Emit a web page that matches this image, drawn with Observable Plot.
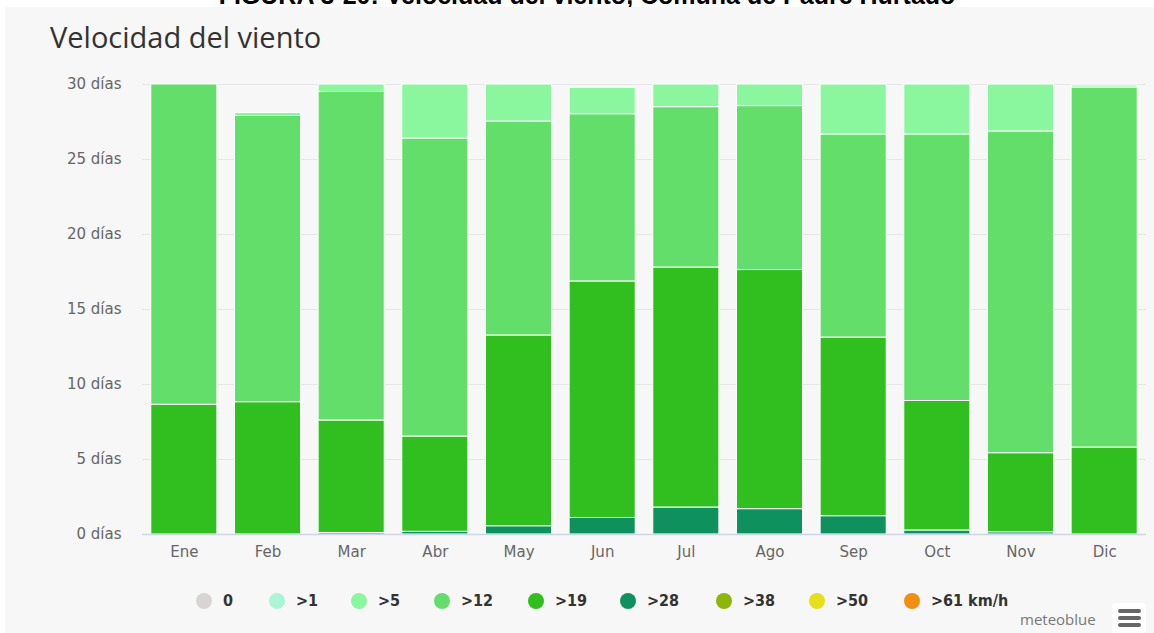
<!DOCTYPE html>
<html>
<head>
<meta charset="utf-8">
<script src="https://cdn.jsdelivr.net/npm/d3@7"></script>
<script src="https://cdn.jsdelivr.net/npm/@observablehq/plot@0.6"></script>
<style>
  html, body { margin: 0; padding: 0; background: #ffffff; width: 1154px; height: 633px; overflow: hidden; position: relative; }
  #caption { position: absolute; left: 0; top: -17px; width: 1174px; text-align: center; font-family: "Liberation Sans", Arial, sans-serif; font-weight: bold; font-size: 25px; line-height: 25px; color: #000; white-space: nowrap; }
  #panel { position: absolute; left: 5px; top: 7px; right: 0; bottom: 0; background: #f7f7f7; }
  #title { position: absolute; left: 50px; top: 17px; font-family: "Open Sans", sans-serif; font-size: 29px; color: #333333; white-space: nowrap; }
  #chart { position: absolute; left: 0; top: 60px; }
  #legend { position: absolute; left: 0; top: 0; width: 1154px; height: 633px; font-family: "DejaVu Sans Condensed", "DejaVu Sans", sans-serif; font-weight: bold; font-size: 16px; color: #333; pointer-events: none; }
  .dot { position: absolute; top: 593px; width: 16px; height: 16px; border-radius: 50%; }
  .lab { position: absolute; top: 590px; line-height: 22px; white-space: nowrap; }
  #brand { position: absolute; left: 1020px; top: 609px; font-family: "Open Sans", sans-serif; font-size: 15px; color: #777; }
  #menu { position: absolute; left: 1112px; top: 603px; width: 34px; height: 30px; background: #fff; border-radius: 3px; }
  #menu div { position: absolute; left: 6px; width: 23px; height: 4px; border-radius: 2px; background: #666; }
</style>
</head>
<body>
<div id="caption">FIGURA 3-20: Velocidad del viento, Comuna de Padre Hurtado</div>
<div id="panel"></div>
<div id="title">Velocidad del viento</div>
<div id="chart"></div>
<div id="legend"></div>
<div id="brand">meteoblue</div>
<div id="menu"><div style="top:6px"></div><div style="top:13px"></div><div style="top:20px"></div></div>
<script>
const months = ["Ene","Feb","Mar","Abr","May","Jun","Jul","Ago","Sep","Oct","Nov","Dic"];
// days per month in each wind-speed class (km/h)
const v28 = [0, 0, 0.1, 0.18, 0.55, 1.1, 1.8, 1.69, 1.22, 0.27, 0.15, 0];
const v19 = [8.65, 8.82, 7.5, 6.35, 12.72, 15.77, 16.0, 15.94, 11.91, 8.63, 5.27, 5.8];
const v12 = [21.35, 19.08, 21.9, 19.87, 14.26, 11.15, 10.69, 10.93, 13.54, 17.77, 21.45, 24.0];
const v5  = [0, 0.2, 0.5, 3.6, 2.47, 1.76, 1.51, 1.44, 3.33, 3.33, 3.13, 0.13];
const legendLabels = ["0", ">1", ">5", ">12", ">19", ">28", ">38", ">50", ">61 km/h"];
const legendColors = ["#d9d4d4", "#a9f5d6", "#8af79e", "#64de6b", "#31be1f", "#0e915d", "#8db50c", "#e5e01b", "#f28e10"];
const yTicks = [0, 5, 10, 15, 20, 25, 30];

const seriesList = [
  [">28", v28],
  [">19", v19],
  [">12", v12],
  [">5", v5]
];
const data = [];
for (const [s, arr] of seriesList) {
  months.forEach((m, i) => data.push({month: m, series: s, value: arr[i]}));
}
const order = seriesList.map(d => d[0]);

const chart = Plot.plot({
  width: 1154,
  height: 520,
  marginTop: 24,
  marginBottom: 46,
  marginLeft: 142,
  marginRight: 8,
  style: {background: "transparent", fontFamily: "DejaVu Sans, sans-serif", fontSize: "15px", color: "#666"},
  x: {domain: months, paddingInner: 0.21, paddingOuter: 0.105, round: false, label: null, tickSize: 0, tickPadding: 12},
  y: {domain: [0, 30], ticks: yTicks, label: null, tickSize: 0, tickPadding: 21, tickFormat: d => d + " días"},
  color: {domain: legendLabels, range: legendColors},
  marks: [
    Plot.gridY(yTicks.slice(1), {stroke: "#e6e6e6", strokeOpacity: 1, strokeWidth: 1}),
    Plot.barY(data, {x: "month", y: "value", fill: "series", stroke: "#ffffff", strokeWidth: 1, order: order}),
    Plot.ruleY([0], {stroke: "#ccd6eb", strokeWidth: 1.5})
  ]
});
document.getElementById("chart").appendChild(chart);

// legend layout (circle centres, px)
const legendX = [204, 277, 359, 442, 536, 628, 724, 817, 912];
const leg = document.getElementById("legend");
legendLabels.forEach((l, i) => {
  const dot = document.createElement("div");
  dot.className = "dot";
  dot.style.left = (legendX[i] - 8) + "px";
  dot.style.background = legendColors[i];
  const t = document.createElement("div");
  t.className = "lab";
  t.style.left = (legendX[i] + 19) + "px";
  t.textContent = l;
  leg.appendChild(dot);
  leg.appendChild(t);
});
</script>
</body>
</html>
